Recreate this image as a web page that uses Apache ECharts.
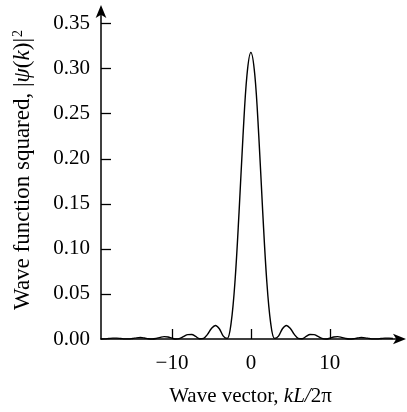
<!DOCTYPE html>
<html>
<head>
<meta charset="utf-8">
<script src="https://cdn.jsdelivr.net/npm/echarts@6/dist/echarts.min.js"></script>
<style>
html,body{margin:0;padding:0;background:#fff;}
#c{width:407px;height:412px;}
</style>
</head>
<body>
<div id="c"></div>
<script>
// wave vector kL/2π (sampled)
var xValues = [-19,-18.5,-18,-17.5,-17,-16.5,-16,-15.5,-15,-14.5,-14,-13.5,-13,-12.5,-12,-11.5,-11,-10.5,-10,-9.5,-9,-8.5,-8,-7.5,-7,-6.5,-6,-5.5,-5,-4.5,-4,-3.5,-3,-2.5,-2,-1.5,-1,-0.5,0,0.5,1,1.5,2,2.5,3,3.5,4,4.5,5,5.5,6,6.5,7,7.5,8,8.5,9,9.5,10,10.5,11,11.5,12,12.5,13,13.5,14,14.5,15,15.5,16,16.5,17,17.5,18];
// |psi(k)|^2
var yValues = [0.0000,0.0001,0.0006,0.0010,0.0010,0.0006,0.0001,0.0001,0.0006,0.0013,0.0016,0.0011,0.0003,0.0000,0.0006,0.0018,0.0026,0.0022,0.0009,0.0000,0.0007,0.0028,0.0049,0.0050,0.0028,0.0003,0.0007,0.0052,0.0117,0.0150,0.0114,0.0032,0.0007,0.0182,0.0658,0.1408,0.2254,0.2927,0.3180,0.2927,0.2254,0.1408,0.0658,0.0182,0.0007,0.0032,0.0114,0.0150,0.0117,0.0052,0.0007,0.0003,0.0028,0.0050,0.0049,0.0028,0.0007,0.0000,0.0009,0.0022,0.0026,0.0018,0.0006,0.0000,0.0003,0.0011,0.0016,0.0013,0.0006,0.0001,0.0001,0.0006,0.0010,0.0010,0.0006];
var xTickValues = [-10, 0, 10];
var yTickValues = [0, 0.05, 0.10, 0.15, 0.20, 0.25, 0.30, 0.35];
var xAxisTitle = 'Wave vector, ';
var yAxisTitle = 'Wave function squared, ';

var FONT = '"Liberation Serif","Times New Roman",serif';
var chart = echarts.init(document.getElementById('c'));
var pts = xValues.map(function(x, i){ return [x, yValues[i]]; });
chart.setOption({
  animation: false,
  backgroundColor: '#fff',
  grid: {left: 101, right: 7, top: 11, bottom: 65, containLabel: false},
  xAxis: {
    type: 'value', min: -19, max: 18.9,
    axisLine: {show: true, onZero: false, lineStyle: {color: '#000', width: 1.5}, symbol: ['none', 'arrow'], symbolSize: [8, 13], symbolOffset: [0, 6]},
    axisTick: {show: true, inside: true, length: 10, customValues: xTickValues, lineStyle: {color: '#000', width: 1.3}},
    axisLabel: {customValues: xTickValues, margin: 14, fontFamily: FONT, fontSize: 21, color: '#000',
      formatter: function(v){ return v < 0 ? '\u2212' + Math.abs(v) : String(v); }},
    splitLine: {show: false},
    name: '{n|' + xAxisTitle + '}{i|kL/}{n|2π}',
    nameLocation: 'middle', nameGap: 47,
    nameTextStyle: {rich: {
      n: {fontFamily: FONT, fontSize: 21, color: '#000'},
      i: {fontFamily: FONT, fontSize: 21, fontStyle: 'italic', color: '#000'}
    }}
  },
  yAxis: {
    type: 'value', min: 0, max: 0.364,
    axisLine: {show: true, onZero: false, lineStyle: {color: '#000', width: 1.5}, symbol: ['none', 'arrow'], symbolSize: [8, 13], symbolOffset: [0, 6]},
    axisTick: {show: true, inside: true, length: 10, customValues: yTickValues.slice(1), lineStyle: {color: '#000', width: 1.3}},
    axisLabel: {customValues: yTickValues, margin: 11, fontFamily: FONT, fontSize: 21, color: '#000',
      formatter: function(v){ return v.toFixed(2); }},
    splitLine: {show: false}
  },
  graphic: [{
    type: 'text', x: 23, y: 170, rotation: Math.PI / 2,
    style: {
      text: '{n|' + yAxisTitle + '|}{i|ψ}{n|(}{i|k}{n|)|}{s|2}',
      align: 'center', verticalAlign: 'middle',
      rich: {
        n: {fontFamily: FONT, fontSize: 23, fill: '#000', color: '#000'},
        i: {fontFamily: FONT, fontSize: 23, fontStyle: 'italic', fill: '#000', color: '#000'},
        s: {fontFamily: FONT, fontSize: 14, fill: '#000', color: '#000', verticalAlign: 'top', padding: [0, 0, 9, 1]}
      }
    }
  }],
  series: [{
    type: 'line', data: pts, smooth: 0.35, showSymbol: false,
    lineStyle: {color: '#000', width: 1.4}, clip: false
  }]
});
</script>
</body>
</html>
